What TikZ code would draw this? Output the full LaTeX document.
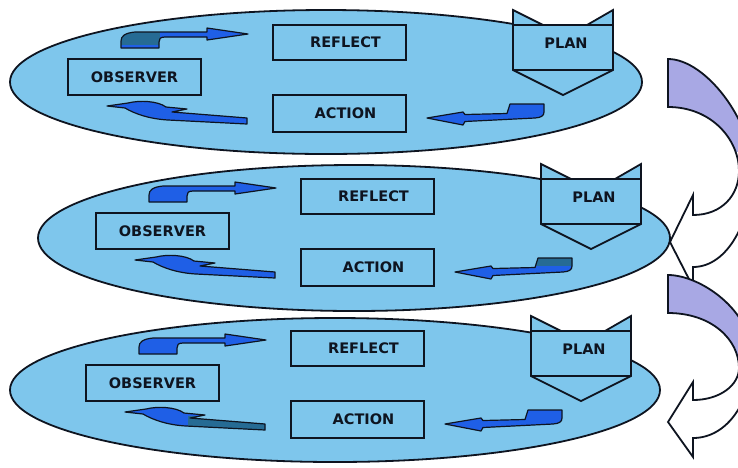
\documentclass[tikz,border=0pt]{standalone}
\usepackage{fontspec}
\setmainfont{DejaVu Sans}
\definecolor{ellblue}{HTML}{7EC6EC}
\definecolor{arrblue}{HTML}{1F5FE6}
\definecolor{arrteal}{HTML}{266B94}
\definecolor{lav}{HTML}{A8A8E4}
\definecolor{ink}{HTML}{0E1420}
\tikzset{
 ell/.style={fill=ellblue, draw=ink, line width=1.8pt},
 box/.style={draw=ink, line width=1.8pt, minimum width=133pt, inner sep=0pt, font=\fontsize{14.5}{16}\selectfont\bfseries, text=ink},
 lbl/.style={font=\fontsize{14.5}{16}\selectfont\bfseries, text=ink, inner sep=0pt},
 planbody/.style={fill=ellblue, draw=ink, line width=1.8pt, line join=miter},
 planline/.style={draw=ink, line width=1.8pt},
 barr/.style={draw=ink, line width=1.2pt, line join=round},
 curv/.style={draw=ink, line width=1.8pt, line join=miter},
}
\def\pathA{(121,48) -- (121,41) .. controls (121,36) and (125,33) .. (135,32) -- (207,32) -- (207,28) -- (248,34) -- (207,40) -- (207,37) -- (165,37) .. controls (160,37) and (159,39) .. (159,42) -- (159,48) -- cycle}
\def\pathB{(107,106) -- (128,103) .. controls (140,100) and (158,101) .. (166,107) -- (187,109) -- (172,112) -- (247,118) -- (247,124) -- (168,120) .. controls (150,119) and (135,114) .. (125,108) -- cycle}
\def\pathC{(427,118) -- (463,112) -- (465,114.5) -- (507,113.5) -- (510,104) -- (544,104) -- (544,112) .. controls (544,116) and (541,117.5) .. (535,118) -- (465,121.5) -- (463,125) -- cycle}
\def\planpath{(513,10) -- (543,25) -- (587,25) -- (613,10) -- (613,70) -- (563,95) -- (513,70) -- cycle}
\def\curveone{(668,59) .. controls (705,59) and (752,120) .. (752,170) .. controls (752,220) and (728,267) .. (693,267) -- (693,287) -- (670,242) -- (693,195) -- (693,215) .. controls (722,215) and (739,195) .. (739,171) .. controls (739,140) and (712,107) .. (668,107) -- cycle}
\def\curvetwo{(668,275) .. controls (700,275) and (752,310) .. (752,357) .. controls (752,400) and (728,438) .. (693,438) -- (693,457) -- (668,422) -- (693,382) -- (693,400) .. controls (720,400) and (739,385) .. (739,368) .. controls (739,340) and (712,313) .. (668,313) -- cycle}
\newcommand\bentarrow[2]{%
  \fill[arrblue] #1;
  \begin{scope}\clip #1; \fill[arrteal] #2; \end{scope}
  \draw[barr] #1;
}
\newcommand\curvedarrow[2]{%
  \fill[white] #1;
  \begin{scope}\clip #1; \fill[lav] (600,0) rectangle (760,#2); \end{scope}
  \draw[curv] #1;
}
\newcommand\levelcontent[4]{%
  \bentarrow{\pathA}{#2}
  \bentarrow{\pathB}{#3}
  \bentarrow{\pathC}{#4}
  \node[box, minimum height=36pt] (obs#1) at (134.5,77) {OBSERVER};
  \node[box, minimum height=35pt] (refl#1) at (339.5,42.5) {\hspace*{12pt}REFLECT};
  \node[box, minimum height=37pt] (act#1) at (339.5,113.5) {\hspace*{12pt}ACTION};
  \filldraw[planbody] \planpath;
  \draw[planline] (513,25) -- (613,25) (513,70) -- (613,70);
  \node[lbl] (plan#1) at (566,43) {PLAN};
}
\begin{document}
\begin{tikzpicture}[x=1pt,y=-1pt]
\useasboundingbox (0,0) rectangle (738,467);
\clip (0,0) rectangle (738,467);
\fill[white] (0,0) rectangle (738,467);
% level 1
\draw[ell] (326,82) ellipse [x radius=316pt, y radius=72pt];
\levelcontent{1}{(100,20) rectangle (160,45)}{(0,0) rectangle (0,0)}{(0,0) rectangle (0,0)}
% level 2
\draw[ell] (354,238) ellipse [x radius=316pt, y radius=73pt];
\begin{scope}[shift={(28,154)}]
\levelcontent{2}{(0,0) rectangle (0,0)}{(0,0) rectangle (0,0)}{(505,100) rectangle (550,112)}
\end{scope}
% level 3
\draw[ell] (335,390) ellipse [x radius=325pt, y radius=72pt];
\begin{scope}[shift={(18,306)}]
\levelcontent{3}{(0,0) rectangle (0,0)}{(170,110) rectangle (250,130)}{(0,0) rectangle (0,0)}
\end{scope}
% curved arrows on the right
\curvedarrow{\curveone}{152}
\curvedarrow{\curvetwo}{362}
\end{tikzpicture}
\end{document}
